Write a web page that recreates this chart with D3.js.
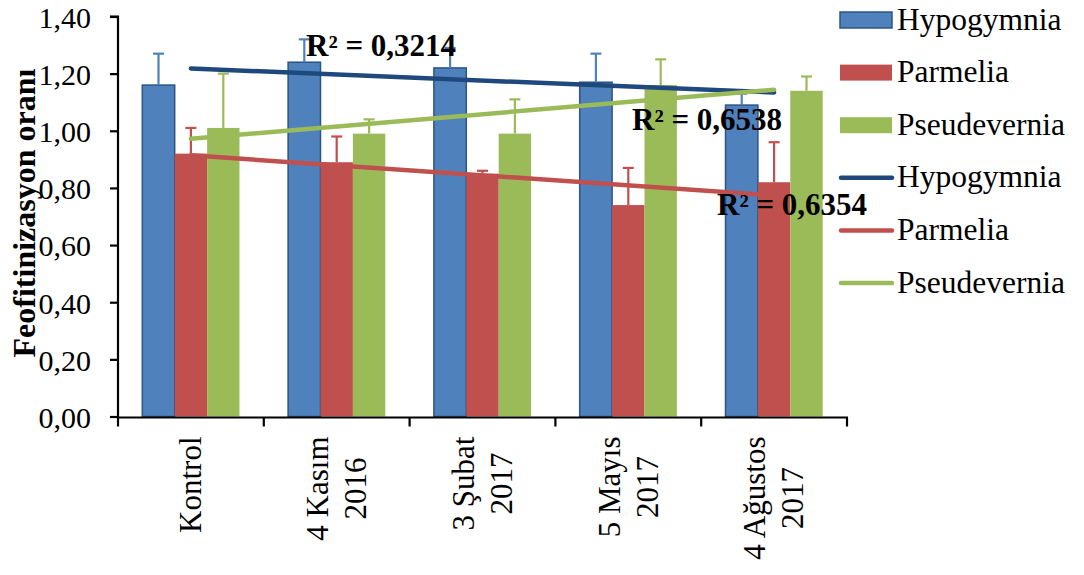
<!DOCTYPE html>
<html>
<head>
<meta charset="utf-8">
<script src="https://cdn.jsdelivr.net/npm/d3@7/dist/d3.min.js"></script>
<style>
  html, body { margin: 0; padding: 0; background: #fff; }
  svg { display: block; }
</style>
</head>
<body>
<svg id="chart" width="1084" height="575"></svg>
<script>
// Sampling dates (multi-line category labels)
const categories = [["Kontrol"], ["4 Kasım", "2016"], ["3 Şubat", "2017"], ["5 Mayıs", "2017"], ["4 Ağustos", "2017"]];
const seriesNames = ["Hypogymnia", "Parmelia", "Pseudevernia"];

// Pheophytinization ratio per species
const hypogymnia = [1.16, 1.24, 1.22, 1.17, 1.09];
const parmelia = [0.92, 0.89, 0.85, 0.74, 0.82];
const pseudevernia = [1.01, 0.99, 0.99, 1.16, 1.14];

// Upper error bar lengths
const hypogymniaErr = [0.11, 0.08, 0.07, 0.10, 0.04];
const parmeliaErr = [0.09, 0.09, 0.01, 0.13, 0.14];
const pseudeverniaErr = [0.19, 0.05, 0.12, 0.09, 0.05];

// Value axis ticks
const yTicks = [0, 0.2, 0.4, 0.6, 0.8, 1.0, 1.2, 1.4];

// Coefficients of determination of the linear trend lines
const r2Labels = ["R² = 0,3214", "R² = 0,6354", "R² = 0,6538"];

const barColors = ["#4f81bd", "#c0504d", "#9bbb59"];
const trendColors = ["#1f497d", "#c0504d", "#9bbb59"];
const FONT = '"Liberation Serif", "Times New Roman", serif';

const values = [hypogymnia, parmelia, pseudevernia];
const errors = [hypogymniaErr, parmeliaErr, pseudeverniaErr];

const svg = d3.select("#chart").style("font-family", FONT);
const plotLeft = 118, plotRight = 847, plotTop = 16.5, plotBottom = 416.5;

const catKeys = categories.map((c, i) => i);
const x = d3.scaleBand().domain(catKeys).range([plotLeft, plotRight]).paddingInner(0).paddingOuter(0);
// three bars per group, gap width 150%
const barW = x.bandwidth() / 4.5;
const xs = d3.scaleBand().domain(seriesNames).range([0.75 * barW, 3.75 * barW]).padding(0);
const y = d3.scaleLinear().domain([0, 1.4]).range([plotBottom, plotTop]);

const fmt = v => d3.format(".2f")(v).replace(".", ",");

// Bars
const plot = svg.append("g");
seriesNames.forEach((name, s) => {
  plot.selectAll(null)
    .data(values[s])
    .enter().append("rect")
    .attr("x", (d, i) => x(i) + xs(name))
    .attr("y", d => y(d))
    .attr("width", xs.bandwidth())
    .attr("height", d => y(0) - y(d))
    .attr("fill", barColors[s])
    .attr("stroke", s === 0 ? "#2c5485" : "none")
    .attr("stroke-width", s === 0 ? 1.5 : 0);
});

// Error bars (upper only)
seriesNames.forEach((name, s) => {
  const g = plot.append("g").attr("stroke", barColors[s]).attr("stroke-width", 2.2);
  values[s].forEach((v, i) => {
    const cx = x(i) + xs(name) + xs.bandwidth() / 2;
    const yt = y(v + errors[s][i]);
    g.append("line").attr("x1", cx).attr("x2", cx).attr("y1", y(v)).attr("y2", yt);
    g.append("line").attr("x1", cx - 5.5).attr("x2", cx + 5.5).attr("y1", yt).attr("y2", yt);
  });
});

// Axes
const yAxis = d3.axisLeft(y).tickValues(yTicks).tickFormat(fmt).tickSize(8).tickPadding(19);
const gy = svg.append("g").attr("transform", `translate(${plotLeft},0)`).call(yAxis)
  .attr("font-family", FONT);
gy.select(".domain").attr("stroke", "#000").attr("stroke-width", 2.2).attr("d", `M-8,${plotTop}H0V${plotBottom + 1}`);
gy.selectAll(".tick line").attr("stroke", "#000").attr("stroke-width", 2.2);
gy.selectAll(".tick text").style("font-size", "30px").attr("dy", "0.36em").attr("fill", "#000");

const gx = svg.append("g");
gx.append("line").attr("x1", plotLeft - 1).attr("x2", plotRight + 1).attr("y1", plotBottom + 1).attr("y2", plotBottom + 1)
  .attr("stroke", "#000").attr("stroke-width", 2.2);
const boundaries = catKeys.map(i => x(i)).concat([plotRight]);
gx.selectAll("line.tk").data(boundaries).enter().append("line")
  .attr("x1", d => d).attr("x2", d => d).attr("y1", plotBottom + 1).attr("y2", plotBottom + 10)
  .attr("stroke", "#000").attr("stroke-width", 2.2);

// Rotated, centred multi-line category labels
const catFont = 31, lineH = 38, capH = 20.5;
categories.forEach((lines, i) => {
  const cx = x(i) + x.bandwidth() / 2;
  const g = gx.append("g").attr("transform", `translate(${cx},${plotBottom + 20}) rotate(-90)`);
  const texts = lines.map(ln => g.append("text").text(ln)
    .style("font-family", FONT).style("font-size", catFont + "px"));
  const maxW = d3.max(texts, t => t.node().getComputedTextLength());
  texts.forEach((t, k) => {
    t.attr("text-anchor", "middle")
      .attr("x", -maxW / 2)
      .attr("y", capH / 2 + (k - (lines.length - 1) / 2) * lineH);
  });
});

// Y axis title
svg.append("text")
  .attr("transform", `translate(35,213) rotate(-90)`)
  .attr("text-anchor", "middle")
  .style("font-size", "32px").style("font-weight", "bold")
  .text("Feofitinizasyon oranı");

// Linear trend lines (least squares over category index)
const trendG = svg.append("g");
const xc = i => x(i) + x.bandwidth() / 2;
values.forEach((vals, s) => {
  const n = vals.length;
  const mx = d3.mean(catKeys), my = d3.mean(vals);
  const slope = d3.sum(catKeys, i => (i - mx) * (vals[i] - my)) / d3.sum(catKeys, i => (i - mx) ** 2);
  const b = my - slope * mx;
  const pts = [0, n - 1].map(i => [xc(i), y(b + slope * i)]);
  trendG.append("path").attr("d", d3.line()(pts))
    .attr("stroke", trendColors[s]).attr("stroke-width", 4.5)
    .attr("stroke-linecap", "round").attr("fill", "none");
});

// R² labels
const r2Pos = [[306, 56], [717, 215], [632, 130]];
r2Labels.forEach((t, k) => {
  svg.append("text").attr("x", r2Pos[k][0]).attr("y", r2Pos[k][1])
    .style("font-size", "31px").style("font-weight", "bold").text(t);
});

// Legend: bar swatches then trend line swatches
const legend = svg.append("g");
const legItems = seriesNames.map((n, s) => ({ name: n, type: "bar", s }))
  .concat(seriesNames.map((n, s) => ({ name: n, type: "line", s })));
const legY = d3.scalePoint().domain(d3.range(legItems.length)).range([20, 283]);
legItems.forEach((it, k) => {
  const cy = legY(k);
  if (it.type === "bar") {
    legend.append("rect").attr("x", 840).attr("y", cy - 8).attr("width", 52).attr("height", 16)
      .attr("fill", barColors[it.s])
      .attr("stroke", it.s === 0 ? "#2c5485" : "none").attr("stroke-width", 1.5);
  } else {
    legend.append("line").attr("x1", 841).attr("x2", 892).attr("y1", cy).attr("y2", cy)
      .attr("stroke", trendColors[it.s]).attr("stroke-width", 4.5).attr("stroke-linecap", "round");
  }
  legend.append("text").attr("x", 897).attr("y", cy + 9.5)
    .style("font-size", "31.5px").text(it.name);
});

// Serif face and black ink on every label
svg.selectAll("text").style("font-family", FONT).attr("fill", "#000");
</script>
</body>
</html>
